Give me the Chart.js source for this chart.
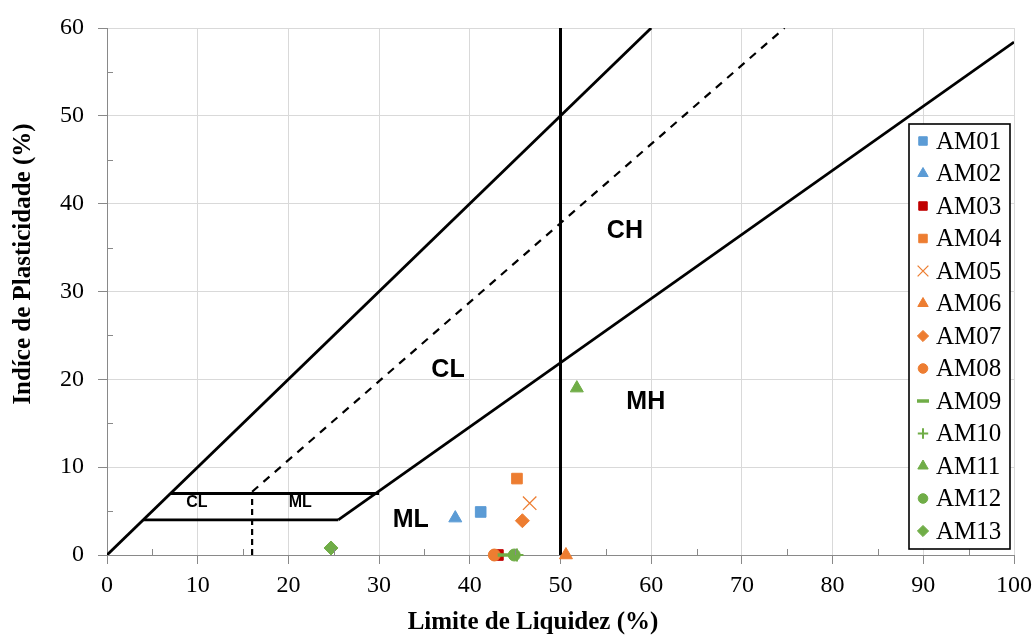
<!DOCTYPE html>
<html><head><meta charset="utf-8">
<script src="https://cdn.jsdelivr.net/npm/chart.js@4.4.1/dist/chart.umd.min.js"></script>
<style>html,body{margin:0;padding:0;background:#fff;} canvas{display:block;}</style>
</head><body>
<canvas id="c" width="1035" height="637"></canvas>
<script>
// ---- data ----
const sampleNames = ['AM01','AM02','AM03','AM04','AM05','AM06','AM07','AM08','AM09','AM10','AM11','AM12','AM13'];
const liquidLimit = [41.2, 38.4, 43.1, 45.2, 46.6, 50.6, 45.8, 42.7, 43.9, 45.2, 51.8, 44.9, 24.7];
const plasticityIndex = [4.9, 4.2, 0, 8.7, 5.9, 0, 3.9, 0, 0, 0, 19.0, 0, 0.8];

// reference lines of the plasticity chart (data units: LL, PI)
const lineEqualLL = [0, 60];      const lineEqualPI = [0, 60];
const lineALL = [25.5, 100];      const lineAPI = [4, 58.4];
const lineULL = [16, 74.7];       const lineUPI = [7.2, 60];
const lineLL50LL = [50, 50];      const lineLL50PI = [0, 60];
const lineLL16LL = [16, 16];      const lineLL16PI = [0, 7];
const boxTopLL = [7, 30];         const boxTopPI = [7, 7];
const boxBottomLL = [4, 25.5];    const boxBottomPI = [4, 4];

const zoneNames = ['CH','CL','MH','ML','CL','ML'];
const zoneLL = [57.1, 37.6, 59.4, 33.5, 9.9, 21.3];
const zonePI = [36.9, 21.0, 17.4, 4.0, 5.95, 5.95];

const xTitle = 'Limite de Liquidez (%)';
const yTitle = 'Indíce de Plasticidade (%)';

// ---- styles ----
const BLUE = '#5B9BD5', RED = '#C00000', ORANGE = '#ED7D31', GREEN = '#70AD47';
const sampleColors = [BLUE, BLUE, RED, ORANGE, ORANGE, ORANGE, ORANGE, ORANGE, GREEN, GREEN, GREEN, GREEN, GREEN];
const sampleStyles = ['rect','triangle','rect','rect','crossRot','triangle','rectRot','circle','line','cross','triangle','circle','rectRot'];
const sampleRadius = [7.5, 7.5, 7.5, 7.5, 9.5, 7.5, 7, 6, 7.5, 6.5, 7.5, 6, 7];
const sampleBorder = [1, 1, 1, 1, 1.3, 1, 1, 1, 3.5, 2, 1, 1, 1];
const zoneFont = ['bold 25px "Liberation Sans", Arial', 'bold 25px "Liberation Sans", Arial', 'bold 25px "Liberation Sans", Arial', 'bold 25px "Liberation Sans", Arial', 'bold 16px "Liberation Sans", Arial', 'bold 16px "Liberation Sans", Arial'];
const SERIF = '"Liberation Serif", "Times New Roman", serif';

function pts(xs, ys){ return xs.map((x,i)=>({x:x, y:ys[i]})); }
function refLine(xs, ys, width, dash){
  return {type:'scatter', data:pts(xs, ys), showLine:true, borderColor:'#000', borderWidth:width,
    borderDash:dash||[], pointRadius:0, pointHoverRadius:0, fill:false, order:20};
}

const datasets = [];
sampleNames.forEach((n,i)=>{
  datasets.push({label:n, data:[{x:liquidLimit[i], y:plasticityIndex[i]}],
    pointStyle:sampleStyles[i], pointRadius:sampleRadius[i], pointHoverRadius:sampleRadius[i],
    backgroundColor:sampleColors[i], borderColor:sampleColors[i], borderWidth:sampleBorder[i],
    clip:false, order:sampleNames.length - i});
});
datasets.push(refLine(lineEqualLL, lineEqualPI, 2.8));
datasets.push(refLine(lineALL, lineAPI, 2.8));
datasets.push(refLine(lineULL, lineUPI, 2.2, [8,7]));
datasets.push(refLine(lineLL50LL, lineLL50PI, 3));
datasets.push(refLine(lineLL16LL, lineLL16PI, 2.2, [6,4]));
datasets.push(refLine(boxTopLL, boxTopPI, 2.8));
datasets.push(refLine(boxBottomLL, boxBottomPI, 2.8));

const overlay = {
  id:'overlay',
  afterDatasetsDraw(chart){
    const ctx = chart.ctx, xs = chart.scales.x, ys = chart.scales.y;
    ctx.save();
    // minor ticks (inside)
    ctx.strokeStyle = '#898989'; ctx.lineWidth = 1;
    for (let v = 5; v < xs.max; v += 10){
      const px = Math.round(xs.getPixelForValue(v)) + 0.5;
      ctx.beginPath(); ctx.moveTo(px, ys.bottom); ctx.lineTo(px, ys.bottom - 6); ctx.stroke();
    }
    for (let v = 5; v < ys.max; v += 10){
      const py = Math.round(ys.getPixelForValue(v)) + 0.5;
      ctx.beginPath(); ctx.moveTo(xs.left, py); ctx.lineTo(xs.left + 6, py); ctx.stroke();
    }
    // zone labels
    ctx.fillStyle = '#000'; ctx.textAlign = 'center'; ctx.textBaseline = 'middle';
    zoneNames.forEach((t,i)=>{
      ctx.font = zoneFont[i];
      ctx.fillText(t, xs.getPixelForValue(zoneLL[i]), ys.getPixelForValue(zonePI[i]));
    });
    ctx.restore();
  },
  afterDraw(chart){
    const ctx = chart.ctx;
    ctx.save();
    // axis titles
    ctx.fillStyle = '#000';
    ctx.font = 'bold 25px ' + SERIF;
    ctx.textAlign = 'center'; ctx.textBaseline = 'alphabetic';
    ctx.fillText(xTitle, 533, 629);
    ctx.translate(30, 264); ctx.rotate(-Math.PI/2);
    ctx.fillText(yTitle, 0, 0);
    ctx.restore();
    // legend
    ctx.save();
    const L = 909, T = 124, R = 1010, B = 549;
    ctx.fillStyle = '#fff'; ctx.fillRect(L, T, R-L, B-T);
    ctx.strokeStyle = '#000'; ctx.lineWidth = 1.6;
    ctx.strokeRect(L, T, R-L, B-T);
    ctx.font = '25px ' + SERIF; ctx.textAlign = 'left'; ctx.textBaseline = 'middle';
    sampleNames.forEach((n,i)=>{
      const cy = 141 + i*32.5;
      ctx.fillStyle = sampleColors[i]; ctx.strokeStyle = sampleColors[i];
      ctx.lineWidth = sampleBorder[i];
      Chart.helpers.drawPoint(ctx, {pointStyle:sampleStyles[i], radius:sampleRadius[i]*0.8, rotation:0, borderWidth:sampleBorder[i]}, 923, cy);
      ctx.fillStyle = '#000';
      ctx.fillText(n, 936, cy + 1);
    });
    ctx.restore();
  }
};

new Chart(document.getElementById('c'), {
  type:'scatter',
  data:{datasets:datasets},
  options:{
    responsive:false, animation:false, events:[],
    layout:{padding:{top:28, right:21, left:0, bottom:0}},
    plugins:{legend:{display:false}, tooltip:{enabled:false}},
    scales:{
      x:{type:'linear', min:0, max:100,
        ticks:{stepSize:10, color:'#000', padding:7, font:{family:SERIF, size:24}},
        grid:{color:'#d9d9d9', tickColor:'#898989', tickLength:9, lineWidth:1},
        border:{color:'#898989', width:1},
        afterFit(s){ s.height = 82; s.paddingRight = 0; s.paddingLeft = 0; }},
      y:{type:'linear', min:0, max:60,
        ticks:{stepSize:10, color:'#000', padding:14, font:{family:SERIF, size:24}},
        grid:{color:'#d9d9d9', tickColor:'#898989', tickLength:9, lineWidth:1},
        border:{color:'#898989', width:1},
        afterFit(s){ s.width = 107; s.paddingTop = 0; s.paddingBottom = 0; }}
    }
  },
  plugins:[overlay]
});
</script>
</body></html>
